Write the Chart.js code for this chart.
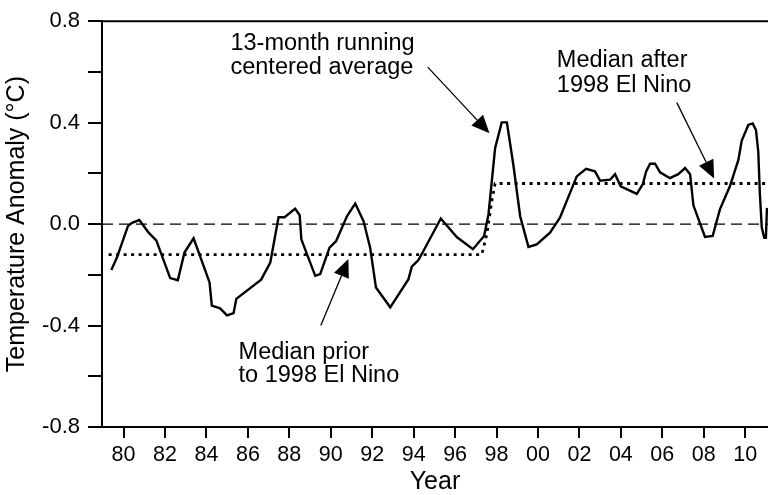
<!DOCTYPE html>
<html>
<head>
<meta charset="utf-8">
<script src="https://cdn.jsdelivr.net/npm/chart.js@4.4.0/dist/chart.umd.min.js"></script>
<style>
  html, body { margin: 0; padding: 0; background: #fff; }
  canvas { display: block; }
</style>
</head>
<body>
<canvas id="chart" width="768" height="495"></canvas>
<script>
// 13-month running centered average
const years = [
  1979.41, 1979.68, 1980.21, 1980.41, 1980.76, 1981.21, 1981.58, 1982.25, 1982.62, 1982.94,
  1983.38, 1984.15, 1984.26, 1984.66, 1984.99, 1985.31, 1985.44, 1986.64, 1987.08, 1987.48,
  1987.77, 1988.28, 1988.50, 1988.58, 1989.25, 1989.49, 1989.94, 1990.26, 1990.78, 1991.18,
  1991.58, 1991.90, 1992.18, 1992.87, 1993.75, 1993.91, 1994.23, 1994.47, 1995.31, 1996.08,
  1996.86, 1997.40, 1997.61, 1997.93, 1998.25, 1998.50, 1998.81, 1999.14, 1999.54, 1999.94,
  2000.58, 2001.06, 2001.87, 2002.32, 2002.75, 2003.00, 2003.48, 2003.72, 2003.99, 2004.77,
  2005.06, 2005.22, 2005.41, 2005.65, 2005.89, 2006.37, 2006.77, 2007.10, 2007.34, 2007.50,
  2008.06, 2008.43, 2008.78, 2009.26, 2009.67, 2009.83, 2010.15, 2010.36, 2010.52, 2010.63,
  2010.71, 2010.80, 2010.92, 2011.00, 2011.05
];
const anomaly = [
  -0.181, -0.132, -0.008, 0.005, 0.016, -0.034, -0.064, -0.213, -0.221, -0.112,
  -0.056, -0.230, -0.321, -0.332, -0.360, -0.351, -0.295, -0.219, -0.152, 0.027,
  0.027, 0.061, 0.035, -0.060, -0.204, -0.197, -0.093, -0.067, 0.031, 0.081,
  0.012, -0.093, -0.250, -0.328, -0.217, -0.168, -0.142, -0.106, 0.022, -0.051,
  -0.099, -0.047, 0.038, 0.299, 0.401, 0.401, 0.234, 0.031, -0.090, -0.080,
  -0.034, 0.025, 0.188, 0.218, 0.208, 0.171, 0.175, 0.197, 0.149, 0.119,
  0.158, 0.208, 0.238, 0.238, 0.204, 0.181, 0.197, 0.221, 0.197, 0.074,
  -0.051, -0.047, 0.058, 0.149, 0.253, 0.328, 0.391, 0.397, 0.371, 0.286,
  0.116, -0.014, -0.054, -0.054, 0.064
];

// medians before / after the 1998 El Nino
const medianYears = [1979.28, 1997.29, 1997.53, 1997.77, 1997.93, 2011.2];
const medianValues = [-0.12, -0.12, -0.04, 0.09, 0.16, 0.16];

const zeroYears = [1978.96, 2011.2];
const zeroValues = [0, 0];

const xTickYears = [1980, 1982, 1984, 1986, 1988, 1990, 1992, 1994, 1996, 1998, 2000, 2002, 2004, 2006, 2008, 2010];
const yTickValues = [-0.8, -0.6, -0.4, -0.2, 0, 0.2, 0.4, 0.6, 0.8];

// annotation text lines: [text, year at left edge, value at baseline]
const noteLines = [
  ["13-month running", 1985.16, 0.687],
  ["centered average", 1985.16, 0.593],
  ["Median after", 2000.91, 0.619],
  ["1998 El Nino", 2000.91, 0.521],
  ["Median prior", 1985.55, -0.530],
  ["to 1998 El Nino", 1985.55, -0.622]
];
// arrows: [tail year, tail value, tip year, tip value]
const arrows = [
  [1994.68, 0.619, 1997.66, 0.358],
  [2006.70, 0.479, 2008.50, 0.180],
  [1989.52, -0.400, 1990.85, -0.138]
];

const FONT = '"Liberation Sans", Arial, sans-serif';

function pairs(xs, ys) {
  return xs.map((x, i) => ({ x: x, y: ys[i] }));
}

function drawArrow(ctx, x0, y0, x1, y1) {
  const a = Math.atan2(y1 - y0, x1 - x0);
  const len = 18, half = 8;
  const bx = x1 - len * Math.cos(a), by = y1 - len * Math.sin(a);
  ctx.lineWidth = 1.3;
  ctx.beginPath();
  ctx.moveTo(x0, y0);
  ctx.lineTo(bx, by);
  ctx.stroke();
  ctx.beginPath();
  ctx.moveTo(x1, y1);
  ctx.lineTo(bx + half * Math.sin(a), by - half * Math.cos(a));
  ctx.lineTo(bx - half * Math.sin(a), by + half * Math.cos(a));
  ctx.closePath();
  ctx.fill();
}

const annotate = {
  id: "annotate",
  afterDatasetsDraw(chart) {
    const { ctx, chartArea, scales } = chart;
    const x = scales.x, y = scales.y;
    ctx.save();
    ctx.strokeStyle = "#000";
    ctx.fillStyle = "#000";
    // top frame line
    ctx.lineWidth = 2;
    ctx.beginPath();
    ctx.moveTo(chartArea.left - 1, chartArea.top);
    ctx.lineTo(chartArea.right, chartArea.top);
    ctx.stroke();

    ctx.font = "23.5px " + FONT;
    ctx.textAlign = "left";
    ctx.textBaseline = "alphabetic";
    noteLines.forEach(([t, yr, v]) => {
      ctx.fillText(t, x.getPixelForValue(yr), y.getPixelForValue(v));
    });
    arrows.forEach(([y0, v0, y1, v1]) => {
      drawArrow(ctx, x.getPixelForValue(y0), y.getPixelForValue(v0),
                x.getPixelForValue(y1), y.getPixelForValue(v1));
    });
    ctx.restore();
  }
};

new Chart(document.getElementById("chart"), {
  type: "scatter",
  data: {
    datasets: [
      {
        data: pairs(zeroYears, zeroValues),
        showLine: true,
        borderColor: "#000",
        borderWidth: 1.4,
        borderDash: [11, 6],
        pointRadius: 0
      },
      {
        data: pairs(medianYears, medianValues),
        showLine: true,
        borderColor: "#000",
        borderWidth: 2.8,
        borderDash: [3, 4.5],
        pointRadius: 0
      },
      {
        data: pairs(years, anomaly),
        showLine: true,
        borderColor: "#000",
        borderWidth: 2.4,
        pointRadius: 0
      }
    ]
  },
  options: {
    responsive: false,
    animation: false,
    devicePixelRatio: 1,
    layout: { padding: { top: 19, right: 0, left: 0, bottom: 0 } },
    plugins: { legend: { display: false }, tooltip: { enabled: false } },
    scales: {
      x: {
        type: "linear",
        min: 1978.96,
        max: 2011.1,
        afterBuildTicks: (scale) => {
          scale.ticks = xTickYears.map((v) => ({ value: v }));
        },
        afterFit: (scale) => { scale.height = 68; },
        ticks: {
          color: "#000",
          font: { family: FONT, size: 21.5 },
          padding: 4,
          maxRotation: 0,
          autoSkip: false,
          callback: (v) => String(v % 100).padStart(2, "0")
        },
        grid: {
          drawOnChartArea: false,
          drawTicks: true,
          tickLength: 11,
          color: "#000",
          lineWidth: 2
        },
        border: { display: true, color: "#000", width: 2 },
        title: {
          display: true,
          text: "Year",
          color: "#000",
          font: { family: FONT, size: 25, lineHeight: 1 },
          padding: { top: 0, bottom: 0 }
        }
      },
      y: {
        min: -0.8,
        max: 0.8,
        afterBuildTicks: (scale) => {
          scale.ticks = yTickValues.map((v) => ({ value: v }));
        },
        afterFit: (scale) => { scale.width = 102; },
        ticks: {
          color: "#000",
          font: { family: FONT, size: 22 },
          padding: 8,
          autoSkip: false,
          callback: (v) => {
            const k = v / 0.4;
            return Math.abs(k - Math.round(k)) < 1e-6 ? v.toFixed(1) : "";
          }
        },
        grid: {
          drawOnChartArea: false,
          drawTicks: true,
          tickLength: 14,
          color: "#000",
          lineWidth: 2
        },
        border: { display: true, color: "#000", width: 2 },
        title: {
          display: true,
          text: "Temperature Anomaly (°C)",
          color: "#000",
          font: { family: FONT, size: 25, lineHeight: 1 },
          padding: { top: 5, bottom: 0 }
        }
      }
    }
  },
  plugins: [annotate]
});
</script>
</body>
</html>
